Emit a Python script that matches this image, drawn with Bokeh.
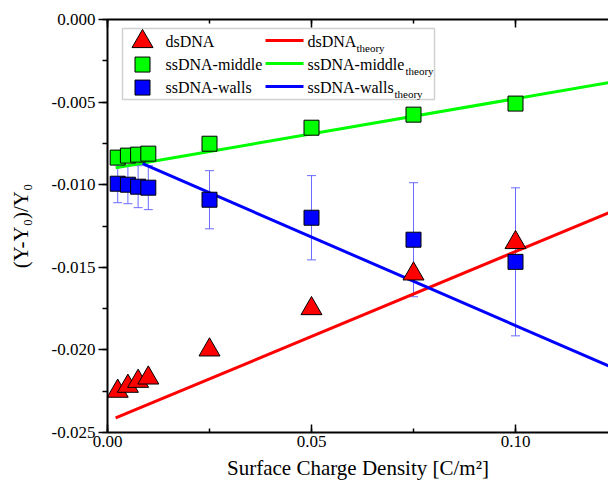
from bokeh.plotting import figure
from bokeh.models import (Range1d, LinearAxis, FixedTicker, NumeralTickFormatter,
                          Whisker, ColumnDataSource, Label, BoxAnnotation)
from bokeh.embed import file_html
from bokeh.resources import INLINE

# ---------------- data ----------------
charge = [0.0025, 0.005, 0.0075, 0.01, 0.025, 0.05, 0.075, 0.1]
ds_dna = [-0.0225, -0.0222, -0.0219, -0.0217, -0.0200, -0.0175, -0.0154, -0.0135]
ss_middle = [-0.00836, -0.00824, -0.00818, -0.00812, -0.00752, -0.00655, -0.00576, -0.00509]
ss_walls = [-0.00994, -0.01000, -0.01012, -0.01018, -0.01091, -0.01200, -0.01333, -0.01467]
ss_walls_err = [0.00115, 0.00115, 0.00127, 0.00133, 0.00176, 0.00255, 0.00345, 0.00448]

ds_theory_x = [0.002, 0.1228]
ds_theory_y = [-0.02412, -0.0117]
mid_theory_x = [0.002, 0.1228]
mid_theory_y = [-0.00897, -0.00382]
walls_theory_x = [0.0086, 0.1228]
walls_theory_y = [-0.00873, -0.02097]

x_major = [0.0, 0.05, 0.1]
x_minor = [0.0, 0.025, 0.05, 0.075, 0.1, 0.125]
y_major = [-0.025, -0.02, -0.015, -0.01, -0.005, 0.0]
y_minor = [-0.025, -0.0225, -0.02, -0.0175, -0.015, -0.0125, -0.01, -0.0075,
           -0.005, -0.0025, 0.0]

legend_names = ["dsDNA", "ssDNA-middle", "ssDNA-walls"]
theory_sub = "theory"

RED, GREEN, BLUE = "#ff0000", "#00ff00", "#0000ff"
FONT = "Liberation Serif"

p = figure(width=608, height=485, output_backend="svg", toolbar_location=None,
           x_range=Range1d(0, 0.12279), y_range=Range1d(-0.025, 0.0),
           min_border_left=107, min_border_right=0, min_border_top=19,
           min_border_bottom=53)
p.outline_line_color = None
p.xgrid.visible = False
p.ygrid.visible = False
p.background_fill_color = "white"
p.border_fill_color = "white"

def style_axis(ax):
    ax.axis_line_width = 2
    ax.axis_line_color = "black"
    ax.major_tick_line_width = 1.5
    ax.minor_tick_line_width = 1.5
    ax.major_tick_line_color = "black"
    ax.minor_tick_line_color = "black"
    ax.major_label_text_font = FONT
    ax.major_label_text_font_size = "17px"
    ax.major_label_text_font_style = "normal"
    ax.major_label_text_color = "black"
    ax.axis_label_text_font = FONT
    ax.axis_label_text_font_style = "normal"
    ax.axis_label_text_font_size = "21px"
    ax.axis_label_text_color = "black"

xa = p.xaxis[0]
xa.ticker = FixedTicker(ticks=x_major, minor_ticks=x_minor)
xa.formatter = NumeralTickFormatter(format="0.00")
style_axis(xa)
xa.major_tick_in = 8
xa.major_tick_out = 0
xa.minor_tick_in = 4
xa.minor_tick_out = 0
xa.major_label_standoff = 3
xa.axis_label = "Surface Charge Density [C/m²]"
xa.axis_label_standoff = 6

ya = p.yaxis[0]
ya.ticker = FixedTicker(ticks=y_major, minor_ticks=y_minor)
ya.formatter = NumeralTickFormatter(format="0.000")
style_axis(ya)
ya.major_tick_in = 0
ya.major_tick_out = 9
ya.minor_tick_in = 0
ya.minor_tick_out = 5
ya.major_label_standoff = 3
ya.axis_label = "(Y-Y₀)/Y₀"
ya.axis_label_standoff = 16

top = LinearAxis(ticker=FixedTicker(ticks=x_major, minor_ticks=x_minor))
style_axis(top)
top.major_label_text_font_size = "0px"
top.major_label_text_alpha = 0
top.major_label_standoff = 0
top.major_tick_in = 8
top.major_tick_out = 0
top.minor_tick_in = 4
top.minor_tick_out = 0
p.add_layout(top, "above")

# theory lines
p.line(ds_theory_x, ds_theory_y, line_color=RED, line_width=3)
p.line(mid_theory_x, mid_theory_y, line_color=GREEN, line_width=3)
p.line(walls_theory_x, walls_theory_y, line_color=BLUE, line_width=3)

# error bars
lower = [v - e for v, e in zip(ss_walls, ss_walls_err)]
upper = [v + e for v, e in zip(ss_walls, ss_walls_err)]
src_err = ColumnDataSource(dict(x=charge, lower=lower, upper=upper))
wh = Whisker(base="x", lower="lower", upper="upper", source=src_err,
             line_color="#6b6bff", line_width=1, level="underlay")
wh.upper_head.line_color = "#6b6bff"
wh.lower_head.line_color = "#6b6bff"
wh.upper_head.size = 9
wh.lower_head.size = 9
p.add_layout(wh)

# markers
p.scatter(charge, ds_dna, marker="triangle", size=21, fill_color=RED,
          line_color="black", line_width=1)
p.scatter(charge, ss_middle, marker="square", size=15, fill_color=GREEN,
          line_color="black", line_width=1)
p.scatter(charge, ss_walls, marker="square", size=15, fill_color=BLUE,
          line_color="black", line_width=1)

# ---------------- legend (drawn by hand for subscripts) ----------------
def lx(px):
    return (px - 107) / 4080.0

def ly(py):
    return -(py - 19) / 16500.0

box = BoxAnnotation(left=lx(122), right=lx(434), top=ly(28), bottom=ly(99),
                    fill_color="white", fill_alpha=1.0, line_color="#666666",
                    line_width=1.5, level="underlay")
p.add_layout(box)

rows = [41, 64, 87]
colors = [RED, GREEN, BLUE]
markers = ["triangle", "square", "square"]
msizes = [21, 15, 15]
sub_x = [356, 405, 394]
for i in range(3):
    p.scatter([lx(142)], [ly(rows[i])], marker=markers[i], size=msizes[i],
              fill_color=colors[i], line_color="black", line_width=1)
    p.line([lx(265), lx(303)], [ly(rows[i] - 1), ly(rows[i] - 1)],
           line_color=colors[i], line_width=3)
    p.add_layout(Label(x=lx(165), y=ly(rows[i]), text=legend_names[i],
                       text_font=FONT, text_font_size="16px",
                       text_baseline="middle", text_color="black"))
    p.add_layout(Label(x=lx(307), y=ly(rows[i]), text=legend_names[i],
                       text_font=FONT, text_font_size="16px",
                       text_baseline="middle", text_color="black"))
    p.add_layout(Label(x=lx(sub_x[i]), y=ly(rows[i] + 6), text=theory_sub,
                       text_font=FONT, text_font_size="11px",
                       text_baseline="middle", text_color="black"))

open("out.html", "w").write(file_html(p, INLINE))
